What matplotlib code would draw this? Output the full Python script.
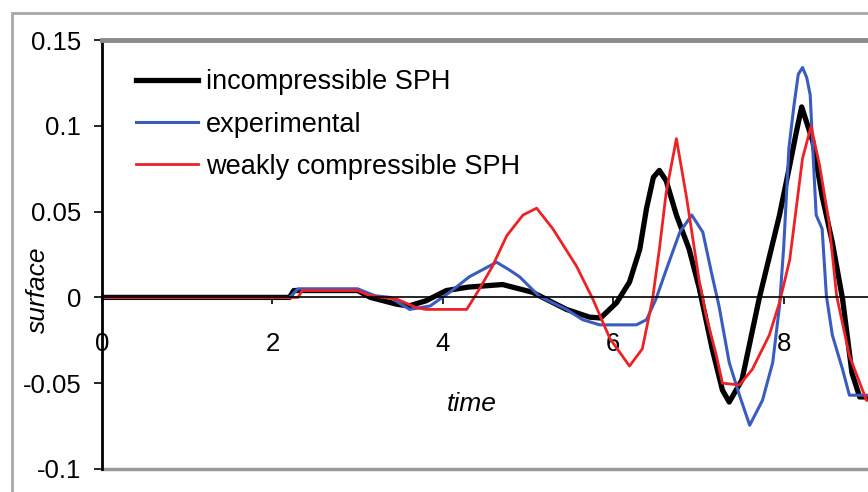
import matplotlib
matplotlib.use("Agg")
import matplotlib.pyplot as plt
from matplotlib.patches import Rectangle

plt.rcParams['font.family'] = ['Liberation Sans', 'DejaVu Sans']

# incompressible SPH (negro)
t_isph = [0, 2.2, 2.25, 3.0, 3.15, 3.46, 3.6, 3.8, 4.04, 4.3, 4.7, 5.05, 5.45, 5.72, 5.85,
          6.04, 6.19, 6.31, 6.39, 6.47, 6.54, 6.62, 6.74, 6.89, 7.01, 7.16, 7.28, 7.36,
          7.51, 7.71, 7.95, 8.07, 8.15, 8.21, 8.34, 8.45, 8.57, 8.69, 8.8, 8.89, 9.0]
y_isph = [0, 0, 0.004, 0.004, 0.0, -0.004, -0.005, -0.002, 0.004, 0.006, 0.0075, 0.003,
          -0.007, -0.0115, -0.012, -0.003, 0.009, 0.028, 0.052, 0.070, 0.074, 0.068, 0.048,
          0.028, 0.005, -0.030, -0.054, -0.061, -0.048, -0.001, 0.048, 0.077, 0.097, 0.111,
          0.091, 0.059, 0.032, -0.001, -0.044, -0.058, -0.058]

# experimental (azul)
t_exp = [0, 2.2, 2.3, 3.0, 3.2, 3.38, 3.61, 3.85, 4.08, 4.31, 4.63, 4.78, 4.9, 5.13, 5.45,
         5.64, 5.84, 6.27, 6.39, 6.5, 6.62, 6.78, 6.92, 7.05, 7.16, 7.24, 7.36, 7.48, 7.6,
         7.75, 7.87, 7.95, 8.0, 8.06, 8.12, 8.17, 8.22, 8.27, 8.31, 8.34, 8.38, 8.45, 8.5,
         8.57, 8.69, 8.77, 9.0]
y_exp = [0, 0, 0.005, 0.005, 0.001, 0.0, -0.007, -0.005, 0.003, 0.012, 0.0205, 0.016,
         0.012, 0.0007, -0.007, -0.013, -0.016, -0.016, -0.013, -0.001, 0.016, 0.038, 0.048,
         0.038, 0.0125, -0.005, -0.038, -0.057, -0.0745, -0.06, -0.038, -0.005, 0.03, 0.087,
         0.112, 0.13, 0.134, 0.128, 0.118, 0.087, 0.048, 0.04, 0.001, -0.022, -0.042,
         -0.057, -0.057]

# weakly compressible SPH (rojo)
t_wcsph = [0, 2.3, 2.35, 3.0, 3.14, 3.46, 3.69, 3.8, 4.28, 4.43, 4.58, 4.75, 4.94, 5.1,
           5.29, 5.57, 5.76, 5.96, 6.19, 6.34, 6.46, 6.54, 6.62, 6.74, 6.86, 7.01, 7.09,
           7.21, 7.28, 7.48, 7.63, 7.83, 7.95, 8.07, 8.22, 8.32, 8.42, 8.53, 8.62, 8.77,
           8.97, 9.0]
y_wcsph = [0, 0, 0.004, 0.004, 0.001, -0.001, -0.006, -0.007, -0.007, 0.005, 0.018, 0.036,
           0.048, 0.052, 0.04, 0.018, -0.001, -0.024, -0.04, -0.03, -0.001, 0.028, 0.061,
           0.0925, 0.058, 0.009, -0.011, -0.034, -0.05, -0.051, -0.042, -0.022, -0.003,
           0.022, 0.081, 0.0997, 0.077, 0.044, 0.001, -0.034, -0.06, -0.06]

y_ticks = [0.15, 0.1, 0.05, 0, -0.05, -0.1]
y_labels = ['0.15', '0.1', '0.05', '0', '-0.05', '-0.1']
x_ticks = [0, 2, 4, 6, 8]

fig = plt.figure(figsize=(8.68, 4.92), dpi=100)
ax = fig.add_axes([102 / 868, 23 / 492, 767 / 868, 429 / 492])

# marco exterior gris
fig.patches.append(Rectangle((12 / 868, -0.05), 1.2, (492 - 13) / 492 + 0.05,
                             transform=fig.transFigure, fill=False,
                             edgecolor='#a8a8a8', linewidth=2))

ax.plot(t_isph, y_isph, color='black', lw=3.8, label='incompressible SPH')
ax.plot(t_exp, y_exp, color='#3a5cbf', lw=2.2, label='experimental')
ax.plot(t_wcsph, y_wcsph, color='#ee2226', lw=2.0, label='weakly compressible SPH')

ax.set_xlim(0, 9)
ax.set_ylim(-0.1, 0.15)

ax.spines['right'].set_visible(False)
ax.spines['top'].set_color('#8a8a8a')
ax.spines['top'].set_linewidth(3.5)
ax.spines['left'].set_linewidth(2)
ax.spines['bottom'].set_position(('data', 0))
ax.spines['bottom'].set_linewidth(1.2)
ax.axhline(-0.1, color='#9a9a9a', lw=2.5, clip_on=False)

ax.set_yticks(y_ticks)
ax.set_yticklabels(y_labels)
ax.set_xticks(x_ticks)
ax.tick_params(axis='y', direction='out', length=6, width=1.2, pad=9, labelsize=18.5)
ax.tick_params(axis='x', direction='out', length=5, width=1.2, pad=20, labelsize=18.5)

fig.text(472 / 868, 1 - 404 / 492, 'time', fontsize=19, style='italic',
         ha='center', va='center')
fig.text(38 / 868, 1 - 290 / 492, 'surface', fontsize=19, style='italic',
         rotation=90, ha='center', va='center')

ax.legend(loc='upper left', bbox_to_anchor=(0.030, 0.957), frameon=False, fontsize=19.5,
          handlelength=2.3, handletextpad=0.3, labelspacing=0.6, borderaxespad=0)

fig.savefig('out.png', dpi=100)
